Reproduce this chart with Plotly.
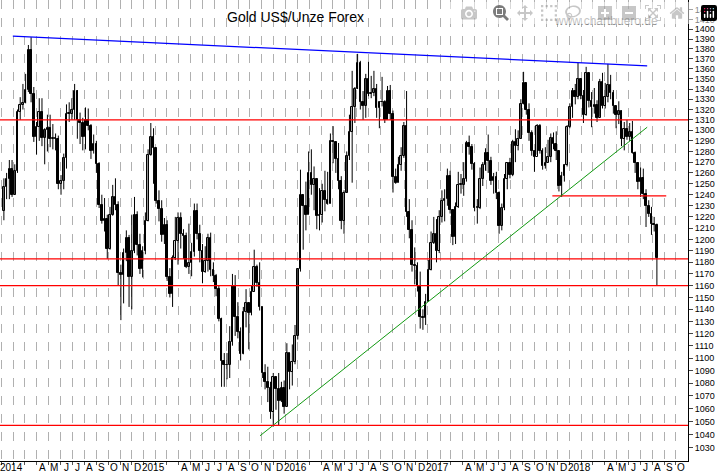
import pandas as pd
import plotly.graph_objects as go

first_open = 1225
closes = [1247,1254,1264,1240,1262,1318,1324,1326,1339,1379,1335,1294,1303,1318,1293,1300,1302,1292,1293,1292,1250,1253,1274,1316,1316,1320,1338,1310,1307,1294,1310,1304,1280,1287,1268,1231,1216,1218,1192,1222,1238,1231,1171,1169,1188,1201,1167,1190,1222,1195,1174,1190,
1216,1277,1294,1283,1234,1227,1204,1213,1167,1153,1184,1199,1219,1205,1203,1176,1179,1189,1225,1205,1190,1172,1181,1201,1173,1168,1157,1132,1098,1094,1094,1113,1160,1134,1121,1103,1138,1145,1137,1155,1176,1162,1142,1088,1081,1076,1057,1085,1075,1066,1076,1061,
1104,1089,1097,1118,1174,1240,1230,1222,1260,1249,1254,1221,1222,1243,1235,1232,1290,1289,1273,1253,1216,1242,1276,1298,1322,1340,1366,1327,1323,1350,1335,1336,1340,1321,1327,1327,1310,1338,1316,1256,1251,1267,1276,1304,1224,1208,1178,1177,1160,1134,1133,1146,
1173,1197,1205,1190,1220,1234,1236,1257,1226,1202,1229,1249,1249,1254,1288,1284,1268,1228,1228,1254,1267,1279,1271,1253,1256,1242,1212,1228,1254,1269,1258,1289,1285,1292,1325,1346,1320,1297,1280,1275,1304,1280,1266,1269,1275,1293,1287,1280,1248,1257,1267,1303,
1322,1338,1332,1350,1333,1315,1356,1328,1322,1324,1312,1347,1323,1332,1344,1336,1323,1315,1319,1292,1301,1294,1298,1279,1269,1252,1255,1241,1230,1223,1214,1213,1184]
highs = [1255,1260,1272,1272,1268,1320,1332,1345,1355,1384,1392,1342,1308,1331,1331,1302,1315,1315,1306,1297,1295,1258,1278,1325,1327,1331,1345,1339,1317,1312,1322,1321,1306,1296,1290,1270,1240,1237,1222,1229,1249,1255,1234,1178,1192,1208,1204,1222,1238,1225,1205,1194,
1224,1282,1307,1302,1280,1244,1235,1219,1217,1175,1186,1220,1224,1224,1209,1206,1214,1197,1232,1232,1213,1196,1194,1205,1206,1180,1170,1160,1133,1104,1104,1126,1170,1169,1146,1125,1142,1157,1145,1160,1191,1178,1180,1142,1095,1093,1081,1088,1085,1088,1081,1082,
1112,1104,1111,1127,1175,1263,1240,1252,1280,1282,1266,1251,1246,1250,1262,1261,1297,1304,1286,1288,1257,1244,1280,1315,1358,1342,1375,1368,1338,1355,1367,1353,1358,1345,1328,1352,1329,1343,1344,1319,1264,1275,1284,1308,1338,1236,1217,1193,1180,1172,1140,1153,
1182,1207,1220,1218,1226,1244,1245,1264,1262,1227,1233,1261,1259,1270,1290,1295,1287,1270,1236,1265,1270,1283,1296,1275,1260,1261,1243,1232,1259,1270,1274,1291,1301,1300,1330,1357,1339,1326,1300,1281,1306,1306,1283,1284,1291,1297,1298,1299,1280,1261,1268,1305,
1326,1341,1345,1366,1350,1339,1362,1352,1337,1341,1329,1350,1356,1346,1365,1354,1339,1321,1328,1319,1308,1310,1307,1309,1280,1270,1265,1264,1245,1235,1229,1220,1214]
lows = [1217,1236,1236,1238,1240,1260,1310,1320,1326,1337,1327,1289,1277,1290,1285,1268,1280,1284,1282,1281,1245,1240,1245,1264,1308,1310,1310,1292,1287,1281,1282,1300,1273,1278,1260,1228,1214,1207,1183,1191,1221,1226,1160,1131,1145,1181,1142,1140,1188,1186,1170,1167,
1187,1216,1276,1250,1232,1216,1198,1196,1164,1150,1142,1182,1178,1192,1183,1175,1170,1168,1185,1200,1180,1162,1171,1172,1168,1163,1151,1130,1077,1077,1083,1084,1110,1118,1116,1098,1103,1125,1107,1135,1155,1159,1139,1084,1075,1065,1052,1046,1059,1047,1065,1056,
1062,1075,1078,1095,1115,1172,1191,1208,1223,1240,1226,1209,1208,1215,1225,1231,1234,1269,1260,1245,1209,1205,1242,1272,1251,1307,1340,1320,1310,1312,1333,1331,1333,1312,1302,1323,1307,1311,1310,1242,1250,1253,1262,1274,1220,1201,1172,1161,1155,1124,1123,1127,
1147,1173,1196,1180,1188,1215,1216,1230,1223,1195,1196,1228,1241,1239,1252,1277,1263,1225,1214,1227,1248,1262,1260,1249,1241,1236,1205,1208,1226,1245,1255,1257,1270,1281,1292,1325,1315,1290,1276,1261,1277,1278,1263,1264,1270,1270,1282,1272,1243,1238,1252,1266,
1302,1312,1325,1330,1330,1307,1314,1322,1303,1316,1308,1313,1321,1321,1327,1330,1316,1302,1306,1285,1281,1291,1290,1278,1260,1245,1238,1236,1211,1220,1204,1207,1160]

dates = pd.date_range("2014-01-06", periods=len(closes), freq="7D")
opens = [first_open] + closes[:-1]

hlines = [1310, 1183, 1160, 1047]
short_line = {"x": ["2017-11-17", "2018-09-06"], "y": [1239, 1239]}
blue_line = {"x": ["2014-01-29", "2018-07-19"], "y": [1393, 1363]}
green_line = {"x": ["2015-10-27", "2018-07-19"], "y": [1039, 1303]}

fig = go.Figure()

wx, wy = [], []
for d, h, l in zip(dates, highs, lows):
    wx += [d, d, None]
    wy += [l, h, None]
fig.add_trace(go.Scatter(x=wx, y=wy, mode="lines", line=dict(color="black", width=1),
                         showlegend=False, hoverinfo="skip"))
body_base = [min(o, c) for o, c in zip(opens, closes)]
body_len = [max(abs(c - o), 0.6) for o, c in zip(opens, closes)]
body_col = ["white" if c >= o else "black" for o, c in zip(opens, closes)]
fig.add_trace(go.Bar(x=dates, y=body_len, base=body_base, width=4.2 * 86400000,
                     marker=dict(color=body_col, line=dict(color="black", width=1)),
                     showlegend=False, hoverinfo="skip"))

for h in hlines:
    fig.add_shape(type="line", xref="paper", x0=0, x1=1, y0=h, y1=h,
                  line=dict(color="red", width=1.3))
fig.add_trace(go.Scatter(x=short_line["x"], y=short_line["y"], mode="lines",
                         line=dict(color="red", width=1.3), showlegend=False))
fig.add_trace(go.Scatter(x=blue_line["x"], y=blue_line["y"], mode="lines",
                         line=dict(color="blue", width=1.2), showlegend=False))
fig.add_trace(go.Scatter(x=green_line["x"], y=green_line["y"], mode="lines",
                         line=dict(color="#119911", width=1), showlegend=False))

months = pd.date_range("2014-01-01", "2018-10-01", freq="MS")
letters = "JFMAMJJASOND"
x_labels = []
for m in months:
    if m.month == 1:
        x_labels.append((m + pd.Timedelta(days=24), str(m.year)))
    elif m.month in (2, 3):
        continue
    else:
        x_labels.append((m + pd.Timedelta(days=14), letters[m.month - 1]))

annotations = [
    dict(text="Gold US$/Unze Forex", x=0.43, y=0.985, xref="paper", yref="paper",
         showarrow=False, font=dict(size=14), xanchor="center", yanchor="top"),
    dict(text="www.chartbuero.de", x=0.96, y=0.975, xref="paper", yref="paper",
         showarrow=False, font=dict(size=12, color="#888888"), xanchor="right", yanchor="top"),
]
for xv, t in x_labels:
    annotations.append(dict(text=t, x=xv, y=0, xref="x", yref="paper",
                            showarrow=False, font=dict(size=10), xanchor="center",
                            yanchor="top", borderpad=0))

fig.update_layout(
    width=723, height=476, margin=dict(l=0, r=35, t=0, b=15),
    paper_bgcolor="white", plot_bgcolor="white", bargap=0,
    font=dict(family="Liberation Sans, Arial", size=11, color="black"),
    xaxis=dict(type="date", range=["2013-12-27", "2018-11-01"],
               showgrid=False, showticklabels=False, ticks="",
               showline=True, linecolor="black", mirror=True,
               minor=dict(tickvals=list(months), showgrid=True, griddash="dash",
                          gridcolor="#b0b0b0", gridwidth=1, ticks="outside",
                          ticklen=3, tickcolor="#555555")),
    yaxis=dict(type="log", side="right", range=[3.00858, 3.15547],
               tickvals=list(range(1030, 1430, 10)), showgrid=False,
               ticks="outside", ticklen=4, tickfont=dict(size=9),
               showline=True, linecolor="black", mirror=True),
    annotations=annotations,
)
fig.write_html("out.html", post_script="document.body.style.margin='0';")
